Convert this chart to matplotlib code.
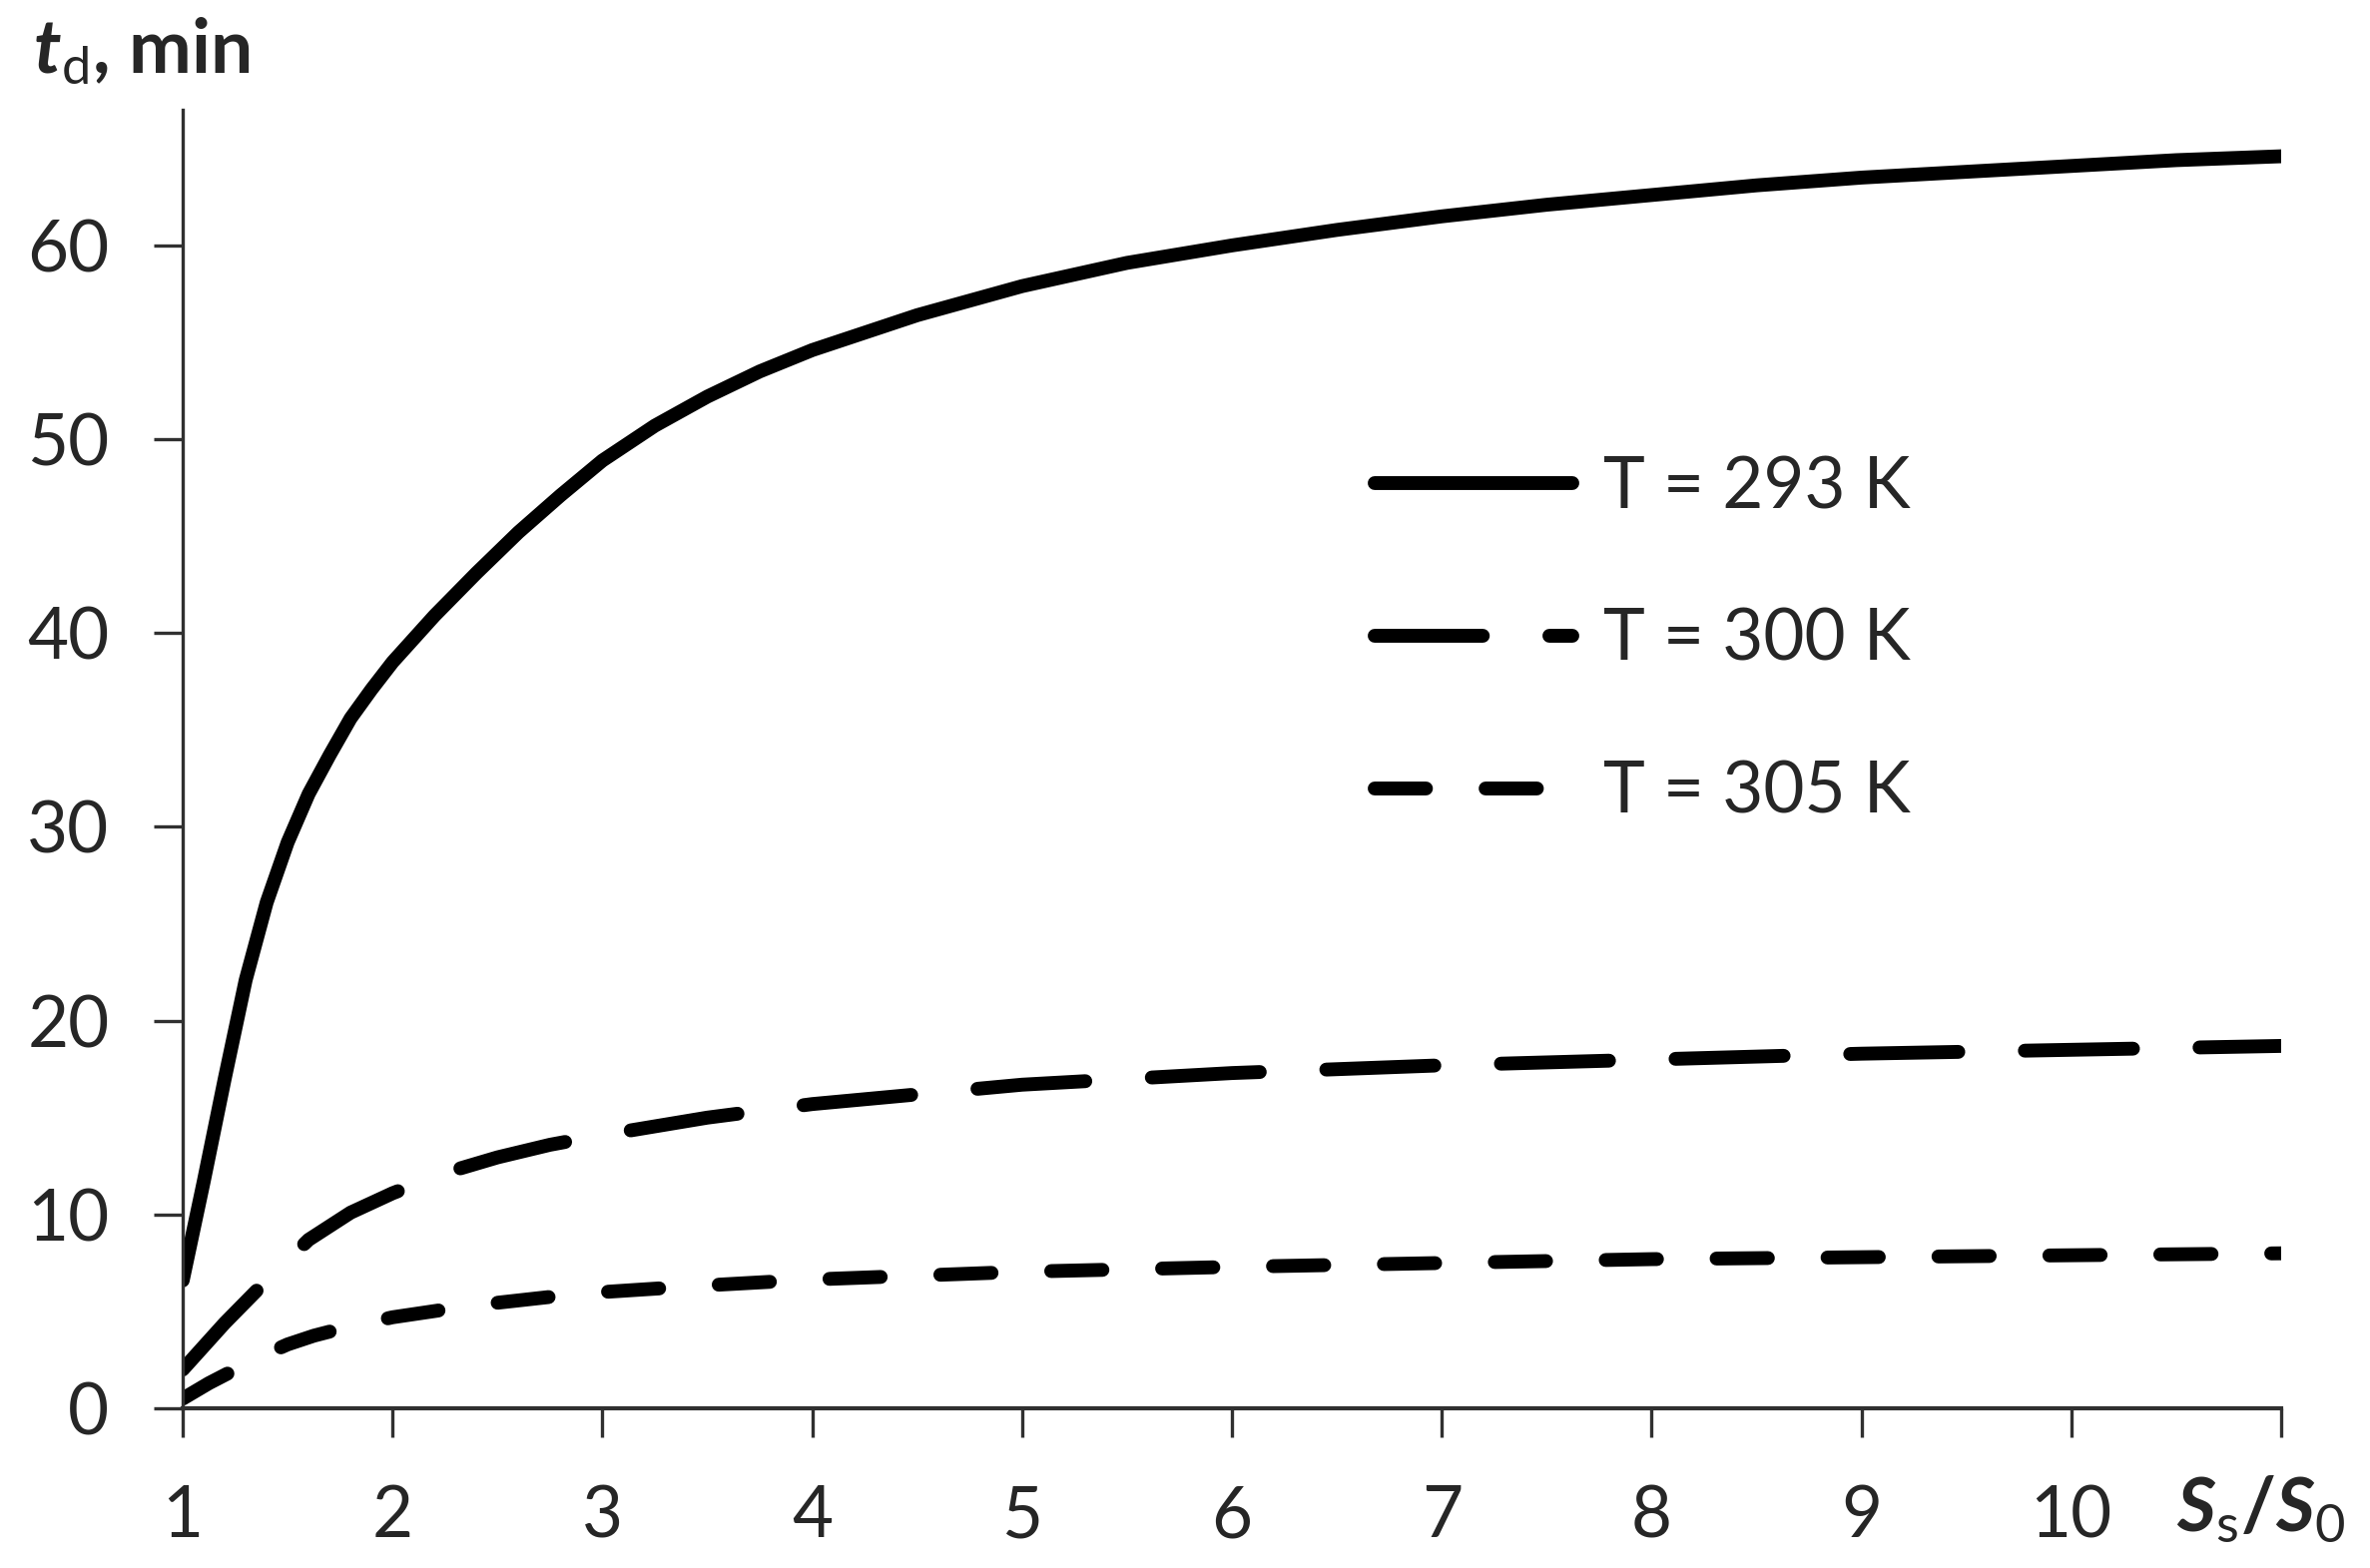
import matplotlib
matplotlib.use("Agg")
import matplotlib.pyplot as plt
import matplotlib.transforms as mtransforms

plt.rcParams['font.family'] = ['Lato', 'DejaVu Sans']
plt.rcParams['mathtext.fontset'] = 'custom'
plt.rcParams['mathtext.rm'] = 'Lato'
plt.rcParams['mathtext.it'] = 'Lato:italic'
plt.rcParams['mathtext.bf'] = 'Lato:bold'
plt.rcParams['mathtext.bfit'] = 'Lato:italic:bold'
plt.rcParams['lines.scale_dashes'] = False

# data
x293 = [1.0, 1.1, 1.2, 1.3, 1.4, 1.5, 1.6, 1.7, 1.8, 1.9, 2.0, 2.2, 2.4, 2.6, 2.8, 3.0,
        3.25, 3.5, 3.75, 4.0, 4.5, 5.0, 5.5, 6.0, 6.5, 7.0, 7.5, 8.0, 8.5, 9.0, 9.5, 10.0, 10.5, 11.0]
y293 = [6.6, 11.7, 17.0, 22.1, 26.1, 29.2, 31.7, 33.7, 35.6, 37.1, 38.5, 40.9, 43.1, 45.2, 47.1, 48.9,
        50.7, 52.2, 53.5, 54.6, 56.4, 57.9, 59.1, 60.0, 60.8, 61.5, 62.1, 62.6, 63.1, 63.5, 63.8, 64.1, 64.4, 64.6]

x300 = [1.0, 1.2, 1.4, 1.6, 1.8, 2.0, 2.25, 2.5, 2.75, 3.0, 3.5, 4.0, 4.5, 5.0, 6.0, 7.0, 8.0, 9.0, 10.0, 11.0]
y300 = [2.0, 4.4, 6.6, 8.7, 10.1, 11.1, 12.15, 12.95, 13.6, 14.1, 15.0, 15.7, 16.2, 16.7, 17.3, 17.7, 18.0, 18.3, 18.5, 18.7]

x305 = [1.0, 1.125, 1.25, 1.375, 1.5, 1.625, 1.75, 2.0, 2.25, 2.5, 2.75, 3.0, 3.5, 4.0, 4.5, 5.0, 6.0, 7.0, 8.0, 9.0, 10.0, 11.0]
y305 = [0.5, 1.3, 2.0, 2.7, 3.3, 3.75, 4.1, 4.7, 5.1, 5.45, 5.75, 6.0, 6.35, 6.65, 6.85, 7.05, 7.3, 7.5, 7.7, 7.8, 7.9, 8.0]

labels = ['T = 293 K', 'T = 300 K', 'T = 305 K']
xticks = [1, 2, 3, 4, 5, 6, 7, 8, 9, 10, 11]
xticklabels = ['1', '2', '3', '4', '5', '6', '7', '8', '9', '10', '']
yticks = [0, 10, 20, 30, 40, 50, 60]

txt = '#262626'
fs = 51

fig = plt.figure(figsize=(23.74, 15.71), dpi=100)
ax = fig.add_axes([0.0771, 0.1018, 0.8854, 0.8282])

lw = 10
ax.plot(x293, y293, color='black', lw=lw, solid_capstyle='round', solid_joinstyle='round',
        label=labels[0])
l2, = ax.plot(x300, y300, color='black', lw=lw, dash_capstyle='round', dash_joinstyle='round',
              label=labels[1])
l2.set_dashes((78, 48))
l3, = ax.plot(x305, y305, color='black', lw=lw, dash_capstyle='round', dash_joinstyle='round',
              label=labels[2])
l3.set_dashes((37, 43))

ax.set_xlim(1, 11)
ax.set_ylim(0, 67)
ax.set_xticks(xticks)
ax.set_xticklabels(xticklabels)
ax.set_yticks(yticks)

for s in ['top', 'right']:
    ax.spines[s].set_visible(False)
ax.spines['left'].set_linewidth(2.4)
ax.spines['bottom'].set_linewidth(3)
ax.spines['left'].set_color('#303030')
ax.spines['bottom'].set_color('#303030')
ax.tick_params(axis='both', direction='out', length=21, width=2.4, color='#303030',
               labelsize=fs, labelcolor=txt)
ax.tick_params(axis='y', pad=32)
ax.tick_params(axis='x', pad=34)

# axis titles
fig.text(0.0141, 1 - 73 / 1571, r'$\mathbfit{t}_{\mathrm{d}}$, min', fontsize=54, fontweight='bold',
         color=txt, ha='left', va='baseline')
trans = mtransforms.blended_transform_factory(ax.transData, ax.transAxes)
ax.text(10.5, -0.094, r'$\mathbfit{S}_{\mathrm{s}}\mathbf{/}\mathbfit{S}_{0}$', fontsize=54,
        color=txt, ha='left', va='baseline', transform=trans)

ax.legend(loc='upper left', bbox_to_anchor=(1377 / 2374, 1 - 456 / 1571),
          bbox_transform=fig.transFigure, frameon=False, fontsize=fs,
          handlelength=2.8, handletextpad=0.43, labelspacing=1.24,
          borderpad=0, borderaxespad=0, labelcolor=txt)

fig.savefig('out.png', dpi=100, facecolor='white')
